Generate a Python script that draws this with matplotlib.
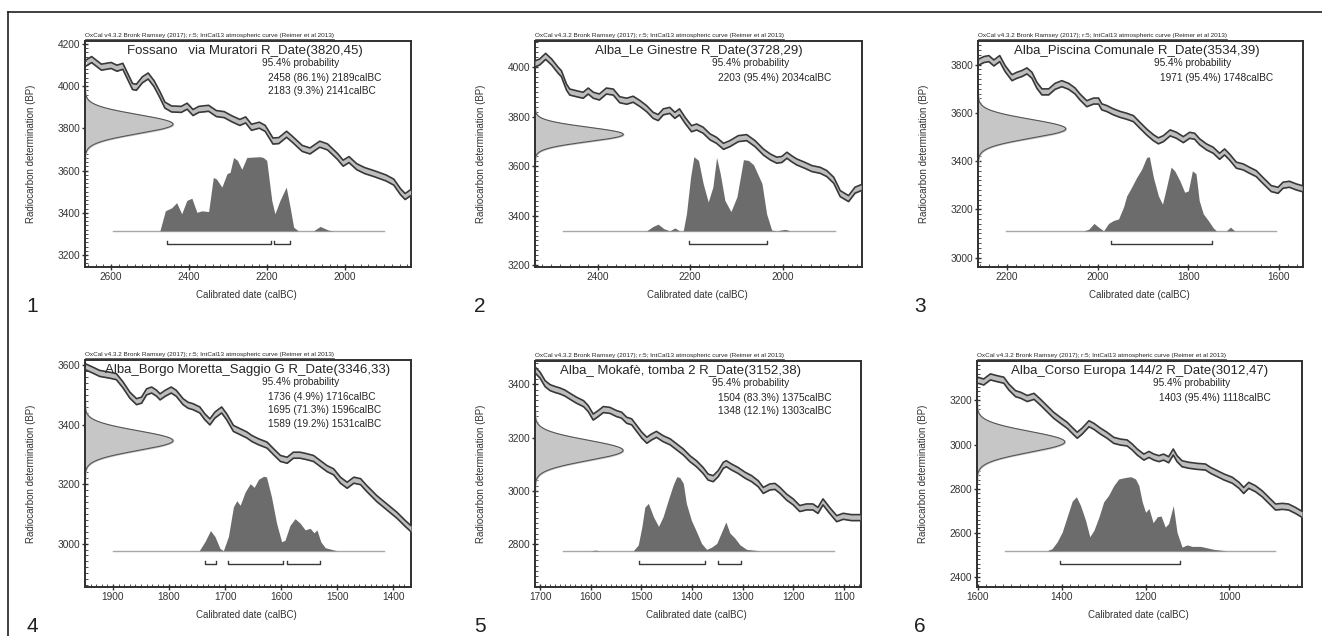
import matplotlib
matplotlib.use('Agg')
import matplotlib.pyplot as plt
import numpy as np
from matplotlib.ticker import MultipleLocator
from matplotlib.transforms import blended_transform_factory
from matplotlib.lines import Line2D

plt.rcParams['font.family'] = ['Liberation Sans', 'DejaVu Sans']

W, H = 1322, 636
CREDIT = 'OxCal v4.3.2 Bronk Ramsey (2017); r:5; IntCal13 atmospheric curve (Reimer et al 2013)'

# ---- panel 1: Fossano
p1_name = 'Fossano   via Muratori'
p1_date = (3820, 45)
p1_curve_year = [2664, 2650, 2625, 2600, 2585, 2570, 2545, 2535, 2520, 2505, 2490, 2475, 2462, 2445,
                 2420, 2405, 2390, 2375, 2350, 2330, 2310, 2290, 2270, 2255, 2240, 2220, 2205, 2185,
                 2170, 2150, 2135, 2110, 2090, 2065, 2045, 2020, 2005, 1990, 1970, 1950, 1925, 1895,
                 1875, 1858, 1846, 1832]
p1_curve_bp = [4110, 4126, 4090, 4098, 4085, 4094, 3998, 3995, 4030, 4048, 4012, 3960, 3910, 3892,
               3890, 3905, 3875, 3890, 3895, 3870, 3865, 3845, 3828, 3840, 3805, 3815, 3800, 3740,
               3742, 3772, 3748, 3705, 3693, 3725, 3712, 3668, 3635, 3652, 3618, 3600, 3585, 3565,
               3545, 3500, 3477, 3495]
p1_post_year = [2475, 2461, 2445, 2432, 2419, 2406, 2393, 2380, 2367, 2350, 2338, 2330, 2316, 2303,
                2295, 2286, 2276, 2265, 2252, 2235, 2218, 2210, 2201, 2188, 2180, 2167, 2151, 2141,
                2132, 2120, 2081, 2064, 2043, 2030]
p1_post_dens = [0, 0.27, 0.31, 0.38, 0.23, 0.41, 0.44, 0.25, 0.27, 0.26, 0.72, 0.70, 0.59, 0.77,
                0.79, 0.99, 0.95, 0.83, 0.99, 0.995, 1.0, 0.99, 0.95, 0.41, 0.23, 0.41, 0.59, 0.32,
                0.05, 0, 0, 0.06, 0.01, 0]
p1_ranges = [(2458, 2189, 86.1), (2183, 2141, 9.3)]

# ---- panel 2: Alba_Le Ginestre
p2_name = 'Alba_Le Ginestre'
p2_date = (3728, 29)
p2_curve_year = [2535, 2525, 2512, 2499, 2485, 2478, 2467, 2460, 2445, 2431, 2420, 2409, 2396, 2381,
                 2366, 2352, 2337, 2323, 2308, 2294, 2280, 2269, 2258, 2244, 2233, 2223, 2211, 2197,
                 2186, 2172, 2157, 2143, 2128, 2114, 2096, 2078, 2060, 2042, 2027, 2013, 2002, 1991,
                 1981, 1970, 1952, 1937, 1919, 1905, 1890, 1876, 1858, 1844, 1831]
p2_curve_bp = [4013, 4020, 4043, 4020, 3987, 3973, 3919, 3899, 3892, 3886, 3903, 3886, 3879, 3903,
               3899, 3868, 3862, 3870, 3852, 3832, 3805, 3796, 3819, 3825, 3805, 3819, 3785, 3751,
               3758, 3745, 3718, 3704, 3680, 3691, 3711, 3715, 3691, 3657, 3637, 3624, 3627, 3644,
               3630, 3617, 3603, 3590, 3583, 3570, 3543, 3489, 3469, 3503, 3513]
p2_post_year = [2294, 2280, 2269, 2257, 2244, 2233, 2223, 2215, 2208, 2199, 2192, 2182, 2172, 2161,
                2151, 2143, 2135, 2125, 2112, 2099, 2085, 2074, 2063, 2053, 2045, 2035, 2024, 2013,
                1995, 1984]
p2_post_dens = [0, 0.06, 0.09, 0.03, 0, 0.04, 0, 0, 0.23, 0.73, 1.0, 0.95, 0.64, 0.39,
                0.59, 0.99, 0.77, 0.41, 0.26, 0.46, 0.96, 0.95, 0.89, 0.75, 0.64, 0.23, 0.01, 0,
                0.02, 0]
p2_ranges = [(2203, 2034, 95.4)]

# ---- panel 3: Alba_Piscina Comunale
p3_name = 'Alba_Piscina Comunale'
p3_date = (3534, 39)
p3_curve_year = [2262, 2251, 2240, 2229, 2216, 2204, 2189, 2178, 2167, 2156, 2145, 2134, 2123, 2108,
                 2094, 2079, 2064, 2050, 2039, 2024, 2009, 1998, 1991, 1980, 1965, 1951, 1936, 1921,
                 1907, 1892, 1877, 1866, 1855, 1840, 1826, 1811, 1797, 1786, 1775, 1760, 1745, 1731,
                 1720, 1709, 1694, 1679, 1665, 1650, 1636, 1617, 1602, 1591, 1577, 1562, 1549]
p3_curve_bp = [3811, 3821, 3825, 3807, 3825, 3783, 3746, 3756, 3763, 3774, 3756, 3714, 3687, 3687,
               3710, 3721, 3710, 3691, 3666, 3638, 3649, 3649, 3625, 3618, 3604, 3594, 3586, 3576,
               3549, 3521, 3497, 3484, 3493, 3517, 3507, 3489, 3507, 3503, 3480, 3459, 3445, 3420,
               3438, 3417, 3383, 3376, 3362, 3348, 3321, 3286, 3279, 3300, 3304, 3293, 3286]
p3_post_year = [2031, 2020, 2008, 1998, 1987, 1976, 1965, 1954, 1943, 1936, 1925, 1914, 1903, 1892,
                1886, 1877, 1866, 1857, 1848, 1838, 1830, 1819, 1808, 1800, 1791, 1783, 1776, 1767,
                1756, 1745, 1738, 1716, 1707, 1698]
p3_post_dens = [0, 0.02, 0.1, 0.05, 0, 0.1, 0.14, 0.16, 0.32, 0.47, 0.59, 0.72, 0.83, 0.99,
                1.0, 0.72, 0.47, 0.36, 0.59, 0.86, 0.81, 0.68, 0.52, 0.54, 0.81, 0.77, 0.41, 0.23,
                0.14, 0.04, 0, 0, 0.05, 0]
p3_ranges = [(1971, 1748, 95.4)]

# ---- panel 4: Alba_Borgo Moretta
p4_name = 'Alba_Borgo Moretta_Saggio G'
p4_date = (3346, 33)
p4_curve_year = [1949, 1936, 1924, 1906, 1894, 1882, 1870, 1858, 1849, 1840, 1831, 1822, 1816, 1807,
                 1796, 1787, 1775, 1766, 1757, 1745, 1736, 1727, 1718, 1706, 1697, 1685, 1673, 1661,
                 1652, 1640, 1625, 1613, 1601, 1589, 1578, 1566, 1554, 1542, 1530, 1518, 1506, 1494,
                 1482, 1470, 1458, 1447, 1429, 1411, 1393, 1378, 1368]
p4_curve_bp = [3594, 3583, 3572, 3566, 3561, 3533, 3499, 3477, 3482, 3510, 3516, 3505, 3493, 3505,
               3516, 3505, 3477, 3465, 3460, 3449, 3426, 3409, 3432, 3449, 3426, 3387, 3376, 3365,
               3353, 3342, 3331, 3308, 3286, 3280, 3297, 3297, 3292, 3286, 3269, 3252, 3241, 3213,
               3196, 3213, 3208, 3185, 3151, 3123, 3095, 3067, 3050]
p4_post_year = [1746, 1736, 1726, 1718, 1709, 1703, 1694, 1685, 1679, 1673, 1664, 1655, 1648, 1640,
                1631, 1626, 1617, 1608, 1599, 1593, 1584, 1575, 1566, 1557, 1548, 1541, 1536, 1529,
                1521, 1506, 1500]
p4_post_dens = [0, 0.12, 0.27, 0.19, 0.03, 0, 0.19, 0.59, 0.67, 0.61, 0.79, 0.9, 0.85, 0.96,
                1.0, 0.99, 0.72, 0.37, 0.12, 0.14, 0.34, 0.43, 0.37, 0.28, 0.3, 0.24, 0.28, 0.12,
                0.04, 0.01, 0]
p4_ranges = [(1736, 1716, 4.9), (1695, 1596, 71.3), (1589, 1531, 19.2)]

# ---- panel 5: Alba_Mokafe
p5_name = 'Alba_ Mokafè, tomba 2'
p5_date = (3152, 38)
p5_curve_year = [1709, 1700, 1690, 1680, 1670, 1661, 1651, 1641, 1628, 1614, 1605, 1595, 1585, 1575,
                 1562, 1549, 1539, 1529, 1519, 1509, 1499, 1489, 1480, 1470, 1457, 1443, 1430, 1417,
                 1404, 1391, 1378, 1368, 1358, 1348, 1338, 1332, 1322, 1309, 1295, 1282, 1269, 1259,
                 1246, 1236, 1226, 1213, 1200, 1187, 1174, 1161, 1151, 1141, 1128, 1114, 1101, 1085,
                 1068]
p5_curve_bp = [3452, 3434, 3402, 3387, 3380, 3375, 3367, 3355, 3340, 3327, 3309, 3277, 3290, 3305,
               3302, 3290, 3284, 3265, 3259, 3234, 3209, 3190, 3202, 3212, 3196, 3184, 3165, 3146,
               3121, 3102, 3077, 3052, 3046, 3065, 3096, 3102, 3090, 3077, 3059, 3046, 3027, 3002,
               3015, 3017, 3002, 2977, 2959, 2934, 2940, 2940, 2927, 2959, 2927, 2896, 2905, 2900,
               2900]
p5_post_year = [1600, 1591, 1582, 1516, 1506, 1499, 1493, 1486, 1476, 1466, 1457, 1447, 1437, 1430,
                1424, 1417, 1411, 1401, 1391, 1381, 1371, 1361, 1351, 1341, 1333, 1325, 1315, 1305,
                1292, 1265]
p5_post_dens = [0, 0.01, 0, 0, 0.08, 0.32, 0.59, 0.64, 0.46, 0.33, 0.46, 0.68, 0.89, 1.0,
                0.99, 0.91, 0.64, 0.41, 0.26, 0.1, 0.02, 0.05, 0.1, 0.26, 0.39, 0.24, 0.17, 0.08,
                0.02, 0]
p5_ranges = [(1504, 1375, 83.3), (1348, 1303, 12.1)]

# ---- panel 6: Alba_Corso Europa
p6_name = 'Alba_Corso Europa 144/2'
p6_date = (3012, 47)
p6_curve_year = [1600, 1586, 1570, 1554, 1538, 1526, 1510, 1498, 1482, 1466, 1451, 1435, 1419, 1403,
                 1387, 1375, 1363, 1351, 1335, 1323, 1308, 1292, 1276, 1260, 1244, 1232, 1220, 1204,
                 1192, 1180, 1168, 1157, 1145, 1134, 1125, 1113, 1097, 1077, 1057, 1045, 1029, 1013,
                 993, 977, 966, 954, 938, 922, 906, 890, 874, 859, 843, 827]
p6_curve_bp = [3291, 3283, 3306, 3298, 3291, 3260, 3230, 3223, 3208, 3218, 3192, 3162, 3132, 3109,
               3087, 3064, 3042, 3061, 3094, 3082, 3061, 3042, 3019, 3011, 3007, 2989, 2966, 2943,
               2955, 2943, 2936, 2943, 2931, 2966, 2936, 2913, 2906, 2901, 2898, 2883, 2868, 2853,
               2838, 2815, 2792, 2815, 2800, 2777, 2747, 2717, 2720, 2717, 2702, 2684]
p6_post_year = [1435, 1423, 1411, 1399, 1387, 1375, 1365, 1355, 1343, 1333, 1323, 1311, 1300, 1288,
                1276, 1264, 1248, 1235, 1224, 1216, 1208, 1200, 1192, 1182, 1172, 1163, 1153, 1145,
                1134, 1125, 1113, 1101, 1089, 1069, 1053, 1037, 1006]
p6_post_dens = [0, 0.03, 0.12, 0.25, 0.46, 0.67, 0.73, 0.61, 0.41, 0.19, 0.28, 0.46, 0.66, 0.75,
                0.88, 0.97, 0.99, 1.0, 0.97, 0.88, 0.66, 0.52, 0.57, 0.38, 0.46, 0.47, 0.32, 0.37,
                0.61, 0.25, 0.05, 0.08, 0.06, 0.06, 0.04, 0.02, 0]
p6_ranges = [(1403, 1118, 95.4)]

panels = [
    (p1_name, p1_date, p1_curve_year, p1_curve_bp, p1_post_year, p1_post_dens, p1_ranges),
    (p2_name, p2_date, p2_curve_year, p2_curve_bp, p2_post_year, p2_post_dens, p2_ranges),
    (p3_name, p3_date, p3_curve_year, p3_curve_bp, p3_post_year, p3_post_dens, p3_ranges),
    (p4_name, p4_date, p4_curve_year, p4_curve_bp, p4_post_year, p4_post_dens, p4_ranges),
    (p5_name, p5_date, p5_curve_year, p5_curve_bp, p5_post_year, p5_post_dens, p5_ranges),
    (p6_name, p6_date, p6_curve_year, p6_curve_bp, p6_post_year, p6_post_dens, p6_ranges),
]

# layout: pixel box (left, top, right, bottom), xlim, ylim, x major step, title centre
layout = [
    ((85, 41, 411, 267), (2667, 1831), (3143, 4214), 200, 0.49),
    ((535, 41, 862, 267), (2535, 1829), (3193, 4105), 200, 0.50),
    ((978, 41, 1303, 267), (2264, 1547), (2961, 3898), 200, 0.49),
    ((85, 360, 411, 587), (1950, 1368), (2854, 3617), 100, 0.50),
    ((535, 361, 861, 587), (1710, 1066), (2640, 3487), 100, 0.446),
    ((977, 361, 1302, 587), (1602, 827), (2355, 3378), 200, 0.50),
]
label_pos = [(32, 307), (480, 307), (920, 307), (32, 626), (480, 626), (920, 626)]

fig = plt.figure(figsize=(W / 100, H / 100), dpi=100)
fig.patch.set_facecolor('white')
renderer = fig.canvas.get_renderer()

dark = '#383838'
txt = '#262626'

for i, (name, date, cy, cbp, py, pd_, ranges) in enumerate(panels):
    (l, t, r, b), xlim, ylim, xstep, tcx = layout[i]
    ax = fig.add_axes([l / W, 1 - b / H, (r - l) / W, (b - t) / H])
    ax.set_xlim(*xlim)
    ax.set_ylim(*ylim)
    yspan = ylim[1] - ylim[0]
    bt = blended_transform_factory(ax.transAxes, ax.transData)

    # measurement on the y axis
    mu, sd = date
    gy = np.linspace(mu - 4 * sd, mu + 4 * sd, 200)
    gx = 0.27 * np.exp(-0.5 * ((gy - mu) / sd) ** 2)
    ax.fill_betweenx(gy, 0, gx, transform=bt, color='#c6c6c6', zorder=2)
    ax.plot(gx, gy, transform=bt, color='#555555', lw=0.8, zorder=2)

    # calibration curve band
    cy = np.array(cy)
    cbp = np.array(cbp)
    hw = 3.0 * yspan / (b - t)
    ax.fill_between(cy, cbp - hw, cbp + hw, color='#bdbdbd', zorder=3, lw=0)
    ax.plot(cy, cbp + hw, color=dark, lw=1.2, zorder=3)
    ax.plot(cy, cbp - hw, color=dark, lw=1.2, zorder=3)

    # calibrated distribution
    base = ylim[0] + 0.16 * yspan
    hgt = 0.328 * yspan
    ax.plot([0.086, 0.918], [base, base], transform=bt, color='#a8a8a8', lw=1.0, zorder=3)
    ax.fill_between(py, base, base + hgt * np.array(pd_), color='#6c6c6c', lw=0, zorder=4)

    # 95.4% ranges
    yb = ylim[0] + 0.10 * yspan
    tk = 0.015 * yspan
    for a, c, pct in ranges:
        ax.plot([a, a, c, c], [yb + tk, yb, yb, yb + tk], color=dark, lw=1.0, zorder=4)

    # texts
    ax.text(tcx, 0.955, f'{name} R_Date({date[0]},{date[1]})', transform=ax.transAxes,
            ha='center', va='center', fontsize=9.5, color=txt, zorder=5)
    ax.text(0.542, 0.902, '95.4% probability', transform=ax.transAxes,
            ha='left', va='center', fontsize=7.3, color=txt, zorder=5)
    for k, (a, c, pct) in enumerate(ranges):
        ax.text(0.56, 0.838 - 0.06 * k, f'{a} ({pct}%) {c}calBC', transform=ax.transAxes,
                ha='left', va='center', fontsize=7.3, color=txt, zorder=5)
    cr = ax.text(0.0, 1.012, CREDIT, transform=ax.transAxes, ha='left', va='bottom',
                 fontsize=4.6, color=txt)
    cw = cr.get_window_extent(renderer).width / ax.get_window_extent(renderer).width
    ax.plot([0, cw], [1.01, 1.01], transform=ax.transAxes, color=txt, lw=0.5, clip_on=False)

    # axes styling
    for s in ax.spines.values():
        s.set_linewidth(1.4)
        s.set_color('#303030')
    ax.xaxis.set_major_locator(MultipleLocator(xstep))
    ax.xaxis.set_minor_locator(MultipleLocator(xstep / 10))
    ax.yaxis.set_major_locator(MultipleLocator(200))
    ax.yaxis.set_minor_locator(MultipleLocator(20))
    ax.tick_params(which='major', direction='inout', length=5, width=1.0, color='#303030',
                   labelsize=7.3, labelcolor='#333333', pad=1)
    ax.tick_params(which='minor', direction='in', length=2.5, width=0.6, color='#303030')
    ax.set_xlabel('Calibrated date (calBC)', fontsize=7, color='#333333')
    ax.set_ylabel('Radiocarbon determination (BP)', fontsize=7, color='#333333')
    ax.xaxis.set_label_coords(0.496, -0.10)
    ax.yaxis.set_label_coords(-0.15, 0.5)

    lx, ly = label_pos[i]
    fig.text(lx / W, 1 - ly / H, str(i + 1), fontsize=15, color='#202020', ha='center', va='center')

# outer frame of the figure plate
fig.add_artist(Line2D([8 / W, 1.0], [1 - 12 / H, 1 - 12 / H], color='#202020', lw=1.2))
fig.add_artist(Line2D([8 / W, 8 / W], [0, 1 - 12 / H], color='#202020', lw=1.2))

fig.savefig('out.png', dpi=100)
